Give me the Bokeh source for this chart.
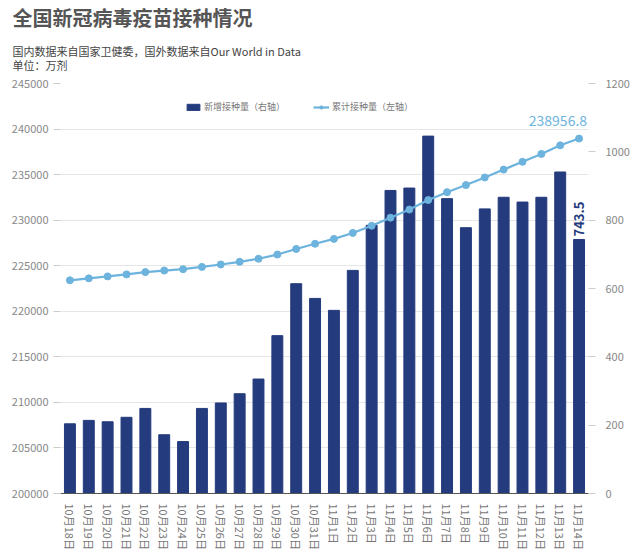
from bokeh.plotting import figure
from bokeh.models import (Range1d, LinearAxis, ColumnDataSource, LabelSet, Title,
                          Legend, LegendItem, FixedTicker, BasicTickFormatter)
from bokeh.core.properties import value
from bokeh.embed import file_html
from bokeh.resources import INLINE

dates = ["10月18日", "10月19日", "10月20日", "10月21日", "10月22日", "10月23日", "10月24日",
         "10月25日", "10月26日", "10月27日", "10月28日", "10月29日", "10月30日", "10月31日",
         "11月1日", "11月2日", "11月3日", "11月4日", "11月5日", "11月6日", "11月7日",
         "11月8日", "11月9日", "11月10日", "11月11日", "11月12日", "11月13日", "11月14日"]
daily = [204, 214, 210, 223, 249, 172, 152, 249, 265, 292, 335, 462, 614, 571,
         536, 653, 785, 887, 894, 1046, 863, 778, 833, 867, 853, 867, 941, 743.5]
cumulative = [223402, 223616, 223826, 224049, 224298, 224470, 224622, 224871,
              225136, 225428, 225763, 226225, 226839, 227410, 227946, 228599,
              229384, 230271, 231165, 232211, 233074, 233852, 234685, 235552,
              236405, 237272, 238213, 238956.8]
left_ticks = [200000, 205000, 210000, 215000, 220000, 225000, 230000, 235000, 240000, 245000]
right_ticks = [0, 200, 400, 600, 800, 1000, 1200]

FONT = "Noto Sans CJK SC"
BAR = "#243b7d"
LINE = "#6cb3dd"

p = figure(x_range=dates, y_range=Range1d(200000, 245000), width=632, height=552,
           output_backend="svg", toolbar_location=None,
           min_border_left=60, min_border_right=42, min_border_top=82, min_border_bottom=59)
p.outline_line_color = None
p.extra_y_ranges = {"right": Range1d(0, 1200)}

src = ColumnDataSource(dict(x=dates, d=daily, c=cumulative))
bars = p.vbar(x="x", top="d", width=0.58, bottom=0, source=src, color=BAR,
              y_range_name="right")
ln = p.line(x="x", y="c", source=src, line_color=LINE, line_width=2.2)
sc = p.scatter(x="x", y="c", source=src, size=7, color=LINE)

# axes
p.yaxis.ticker = FixedTicker(ticks=left_ticks)
p.yaxis.formatter = BasicTickFormatter(use_scientific=False)
p.yaxis.axis_line_color = None
p.yaxis.major_tick_out = 7
p.yaxis.major_tick_in = 0
p.yaxis.minor_tick_line_color = None
p.yaxis.major_tick_line_color = "#cccccc"
p.yaxis.major_label_text_color = "#888888"
p.yaxis.major_label_text_font = FONT
p.yaxis.major_label_text_font_size = "11px"
p.yaxis.major_label_standoff = 5

ry = LinearAxis(y_range_name="right", ticker=FixedTicker(ticks=right_ticks))
ry.axis_line_color = None
ry.major_tick_out = 7
ry.major_tick_in = 0
ry.minor_tick_line_color = None
ry.major_tick_line_color = "#cccccc"
ry.major_label_text_color = "#888888"
ry.major_label_text_font = FONT
ry.major_label_text_font_size = "11px"
ry.major_label_standoff = 10
p.add_layout(ry, "right")

p.xaxis.axis_line_color = "#555555"
p.xaxis.major_tick_line_color = None
p.xaxis.minor_tick_line_color = None
p.xaxis.major_label_orientation = "vertical"
p.xaxis.major_label_text_color = "#777777"
p.xaxis.major_label_text_font = FONT
p.xaxis.major_label_text_font_size = "11px"
p.xaxis.major_label_standoff = 4

p.xgrid.grid_line_color = None
p.ygrid.grid_line_color = "#e6e6e6"
p.ygrid.grid_line_width = 1

# value labels
last = ColumnDataSource(dict(x=[dates[-1]], c=[cumulative[-1]], d=[daily[-1]],
                             ct=[f"{cumulative[-1]}"], dt=[f"{daily[-1]}"]))
p.add_layout(LabelSet(x="x", y="c", text="ct", source=last, x_offset=8, y_offset=13,
                      text_align="right", text_baseline="bottom",
                      text_color=LINE, text_font=value(FONT), text_font_size="14px"))
p.add_layout(LabelSet(x="x", y="d", text="dt", source=last, y_range_name="right",
                      x_offset=0, y_offset=3, angle=1.5708,
                      text_align="left", text_baseline="middle",
                      text_color=BAR, text_font=value(FONT), text_font_size="13px",
                      text_font_style="bold"))

# legend
legend = Legend(items=[LegendItem(label="新增接种量（右轴）", renderers=[bars]),
                       LegendItem(label="累计接种量（左轴）", renderers=[ln, sc])],
                orientation="horizontal", location=(125, 380),
                glyph_width=16, glyph_height=8, label_text_font=FONT,
                label_text_font_size="9px", label_text_color="#777777",
                label_standoff=3, spacing=28, padding=0, margin=0,
                border_line_color=None, background_fill_alpha=0,
                label_height=10)
p.add_layout(legend)

# titles (closest to the frame first)
p.add_layout(Title(text="国内数据来自国家卫健委，国外数据来自Our World in Data\n单位：万剂",
                   align="left", offset=-48, standoff=20, text_line_height=0.88,
                   text_font=FONT, text_font_size="11px", text_font_style="normal",
                   text_color="#444444"), "above")
p.add_layout(Title(text="全国新冠病毒疫苗接种情况", align="left", offset=-48, standoff=0,
                   text_line_height=0.8,
                   text_font=FONT, text_font_size="20px", text_font_style="bold",
                   text_color="#555555"), "above")

open("out.html", "w").write(file_html(p, INLINE))
